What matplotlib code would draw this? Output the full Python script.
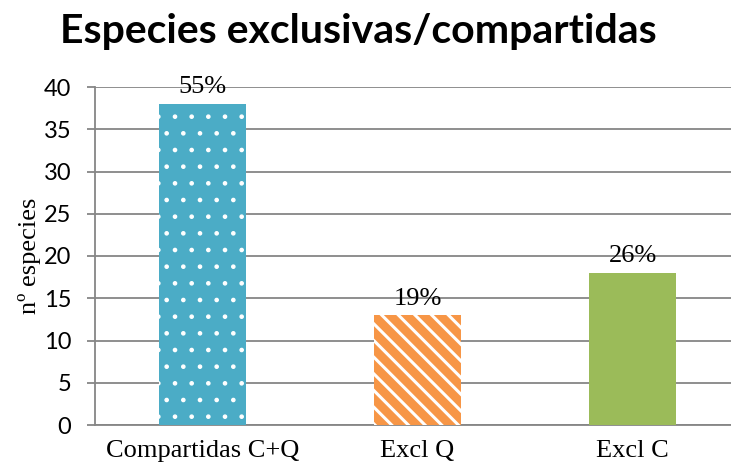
import matplotlib
matplotlib.use("Agg")
import matplotlib.pyplot as plt

categorias = ["Compartidas C+Q", "Excl Q", "Excl C"]
n_especies = [38, 13, 18]
colores = ["#4BACC6", "#F79646", "#9BBB59"]
tramas = [".", "\\\\", None]
grosor_trama = [0.9, 2.2, 1.0]

total = sum(n_especies)
porcentajes = [f"{round(100 * v / total)}%" for v in n_especies]

fig = plt.figure(figsize=(7.31, 4.72), dpi=100)
ax = fig.add_axes([95 / 731, 47 / 472, 645 / 731, 338 / 472])

x = range(len(categorias))
for xi, v, c, h, lw in zip(x, n_especies, colores, tramas, grosor_trama):
    # hatch linewidth is picked up from rcParams when the patch is made
    with plt.rc_context({"hatch.linewidth": lw}):
        ax.bar(xi, v, width=0.405, color=c, hatch=h,
               edgecolor="white" if h else c, linewidth=0, zorder=3)

for xi, v, p in zip(x, n_especies, porcentajes):
    ax.annotate(p, (xi, v), xytext=(0, 4), textcoords="offset points",
                ha="center", va="bottom", fontsize=19,
                family="Liberation Serif")

ax.set_xlim(-0.5, 2.5)
ax.set_ylim(0, 40)
ax.set_yticks(range(0, 41, 5))
ax.set_xticks(list(x))
ax.set_xticklabels(categorias, family="Liberation Serif", fontsize=19)
for t in ax.get_yticklabels():
    t.set_family("Lato")
    t.set_fontsize(17)

ax.grid(True, axis="y", color="#868686", linewidth=1.3, zorder=0)
for s in ["top", "right"]:
    ax.spines[s].set_visible(False)
ax.spines["left"].set_color("#868686")
ax.spines["bottom"].set_color("#868686")
ax.spines["left"].set_linewidth(1.3)
ax.spines["bottom"].set_linewidth(1.3)
ax.tick_params(axis="y", length=6, width=1.3, color="#868686", pad=11)
ax.tick_params(axis="x", length=0, pad=11)

ax.set_ylabel("nº especies", family="Liberation Serif", fontsize=19, labelpad=2)

fig.text(358 / 731, 1 - 31 / 472, "Especies exclusivas/compartidas",
         ha="center", va="center", fontsize=29.5, fontweight="bold", family="Lato")

fig.savefig("out.png", dpi=100)
